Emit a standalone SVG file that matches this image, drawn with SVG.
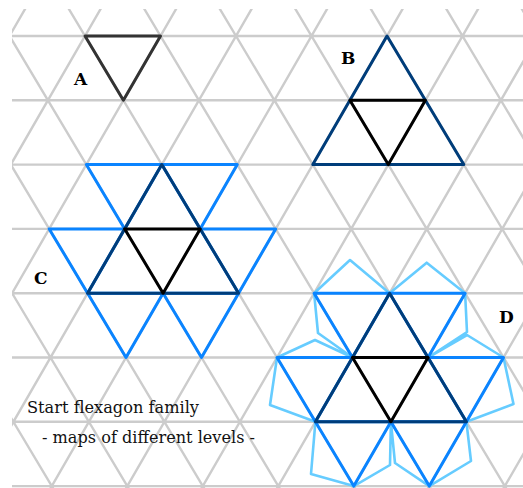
<svg xmlns="http://www.w3.org/2000/svg" width="523" height="488" viewBox="0 0 523 488">
<style>
.grid{fill:none;stroke:#cccccc;stroke-width:2.4}
.s{fill:none;stroke-linejoin:round;stroke-linecap:round}
.a{stroke:#333333;stroke-width:3}
.blk{stroke:#000000;stroke-width:3}
.dk{stroke:#003d7a;stroke-width:3}
.br{stroke:#0a84ff;stroke-width:3}
.lt{stroke:#66ccff;stroke-width:2.6}
.lbl{font-family:"DejaVu Serif","Liberation Serif",serif;font-weight:bold;font-size:17px;fill:#000}
.txt{font-family:"DejaVu Serif","Liberation Serif",serif;font-size:16.5px;fill:#111}
</style>
<defs>
<clipPath id="gclip"><rect x="12" y="9" width="511" height="479"/></clipPath>
</defs>
<rect width="523" height="488" fill="#ffffff"/>
<g id="grid" clip-path="url(#gclip)">
<g transform="matrix(1 0 0.0101 1 9.5 36)">
<path class="grid" d="M-40 0H560M-40 64.3H560M-40 128.6H560M-40 192.9H560M-40 257.2H560M-40 321.5H560M-40 385.8H560M-40 450.1H560
M-339.75 -64.3L0 514.4M-264.25 -64.3L75.5 514.4M-188.75 -64.3L151 514.4M-113.25 -64.3L226.5 514.4M-37.75 -64.3L302 514.4M37.75 -64.3L377.5 514.4M113.25 -64.3L453 514.4M188.75 -64.3L528.5 514.4M264.25 -64.3L604 514.4M339.75 -64.3L679.5 514.4M415.25 -64.3L755 514.4M490.75 -64.3L830.5 514.4M566.25 -64.3L906 514.4
M37.75 -64.3L-302 514.4M113.25 -64.3L-226.5 514.4M188.75 -64.3L-151 514.4M264.25 -64.3L-75.5 514.4M339.75 -64.3L0 514.4M415.25 -64.3L75.5 514.4M490.75 -64.3L151 514.4M566.25 -64.3L226.5 514.4M641.75 -64.3L302 514.4M717.25 -64.3L377.5 514.4M792.75 -64.3L453 514.4M868.25 -64.3L528.5 514.4"/>
</g>
</g>
<g id="connectors"></g>
<g id="nodeA">
<g transform="matrix(1 0 0.0101 1 9.5 36)">
<polygon class="s a" points="75.5,0 151,0 113.25,64.3"/>
</g>
<text class="lbl" x="74" y="85">A</text>
</g>
<g id="nodeB">
<g transform="matrix(1 0 0.0101 1 9.5 36)">
<polygon class="s dk" points="377.5,0 302,128.6 453,128.6"/>
<polygon class="s blk" points="339.75,64.3 415.25,64.3 377.5,128.6"/>
</g>
<text class="lbl" x="341" y="64">B</text>
</g>
<g id="nodeC">
<g transform="matrix(1 0 0.0101 1 9.5 36)">
<polygon class="s br" points="75.5,128.6 151,128.6 113.25,192.9"/>
<polygon class="s br" points="151,128.6 226.5,128.6 188.75,192.9"/>
<polygon class="s br" points="37.75,192.9 113.25,192.9 75.5,257.2"/>
<polygon class="s br" points="188.75,192.9 264.25,192.9 226.5,257.2"/>
<polygon class="s br" points="75.5,257.2 151,257.2 113.25,321.5"/>
<polygon class="s br" points="151,257.2 226.5,257.2 188.75,321.5"/>
<polygon class="s dk" points="151,128.6 75.5,257.2 226.5,257.2"/>
<polygon class="s blk" points="113.25,192.9 188.75,192.9 151,257.2"/>
</g>
<text class="lbl" x="34" y="284">C</text>
</g>
<g id="nodeD">
<path class="s lt" d="M314.1,293.2L350,260L389.6,293.2M314.1,293.2L318,333L352.5,357.5
M389.6,293.2L426.7,262.7L465.1,293.2M465.1,293.2L467,332L428,357.5
M277,357.5L315,340L352.5,357.5M277,357.5L270,405L315.4,421.8
M428,357.5L467,335L503.5,357.5M503.5,357.5L513.5,404L466.4,421.8
M315.4,421.8L311,474L353.8,486.1M390.9,421.8L390,465L353.8,486.1
M390.9,421.8L395,463L429.3,486.1M466.4,421.8L471,461L429.3,486.1"/>
<g transform="matrix(1 0 0.0101 1 9.5 36)">
<polygon class="s br" points="302,257.2 377.5,257.2 339.75,321.5"/>
<polygon class="s br" points="377.5,257.2 453,257.2 415.25,321.5"/>
<polygon class="s br" points="264.25,321.5 339.75,321.5 302,385.8"/>
<polygon class="s br" points="415.25,321.5 490.75,321.5 453,385.8"/>
<polygon class="s br" points="302,385.8 377.5,385.8 339.75,450.1"/>
<polygon class="s br" points="377.5,385.8 453,385.8 415.25,450.1"/>
<polygon class="s dk" points="377.5,257.2 302,385.8 453,385.8"/>
<polygon class="s blk" points="339.75,321.5 415.25,321.5 377.5,385.8"/>
</g>
<text class="lbl" x="499" y="323">D</text>
</g>
<g id="caption">
<text class="txt" x="27" y="413" textLength="172" lengthAdjust="spacingAndGlyphs">Start flexagon family</text>
<text class="txt" x="42" y="443" textLength="213" lengthAdjust="spacingAndGlyphs">- maps of different levels -</text>
</g>
</svg>
